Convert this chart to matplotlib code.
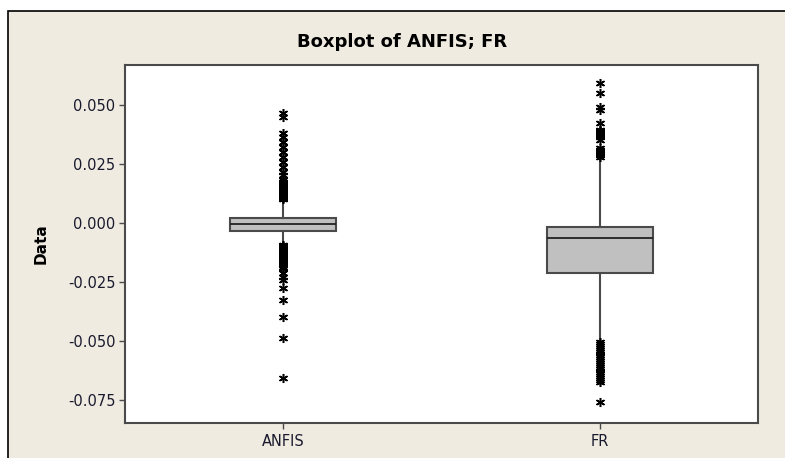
import matplotlib.pyplot as plt
from matplotlib.patches import Rectangle

# ── data ──────────────────────────────────────────────────────────────────────
labels = ["ANFIS", "FR"]
q1 = [-0.0034, -0.0211]
med = [-0.0004, -0.0062]
q3 = [0.0021, -0.0016]
whislo = [-0.0092, -0.0496]
whishi = [0.0095, 0.0274]

anfis_out = [0.0100, 0.0104, 0.0108, 0.0112, 0.0116, 0.0120, 0.0124, 0.0128,
             0.0132, 0.0136, 0.0140, 0.0144, 0.0148, 0.0152, 0.0156, 0.0160,
             0.0165, 0.0170, 0.0175, 0.0180, 0.0186, 0.0203, 0.0217, 0.0239,
             0.0260, 0.0281, 0.0302, 0.0323, 0.0345, 0.0366, 0.0380, 0.0448,
             0.0467,
             -0.0095, -0.0099, -0.0103, -0.0107, -0.0111, -0.0115, -0.0119,
             -0.0123, -0.0127, -0.0131, -0.0135, -0.0139, -0.0143, -0.0147,
             -0.0151, -0.0155, -0.0160, -0.0165, -0.0170, -0.0175, -0.0180,
             -0.0185, -0.0192, -0.0213, -0.0228, -0.0242, -0.0277, -0.0326,
             -0.0397, -0.0489, -0.0658]
fr_out = [0.0281, 0.0286, 0.0291, 0.0296, 0.0301, 0.0306, 0.0311, 0.0316,
          0.0352, 0.0366, 0.0371, 0.0376, 0.0381, 0.0386, 0.0391, 0.0395,
          0.0422, 0.0479, 0.0493, 0.0550, 0.0592,
          -0.0503, -0.0512, -0.0521, -0.0530, -0.0539, -0.0548, -0.0557,
          -0.0566, -0.0575, -0.0584, -0.0593, -0.0602, -0.0611, -0.0620,
          -0.0629, -0.0638, -0.0647, -0.0656, -0.0664, -0.0672, -0.0757]
fliers = [anfis_out, fr_out]

yticks = [0.050, 0.025, 0.000, -0.025, -0.050, -0.075]

# ── figure ────────────────────────────────────────────────────────────────────
BEIGE = "#EFEBE1"
EDGE = "#4a4a4a"
TXT = "#1a1a2e"

fig = plt.figure(figsize=(7.85, 4.58), dpi=100, facecolor="white")
fig.patches.append(Rectangle((8 / 785, -0.05), 1.0, 1 - 11 / 458 + 0.05,
                             transform=fig.transFigure, facecolor=BEIGE,
                             edgecolor="black", lw=1.2, zorder=-10))

ax = fig.add_axes([125 / 785, 1 - 423 / 458, 633 / 785, 358 / 458])
ax.set_facecolor("white")
ax.set_zorder(5)

stats = []
for i, lab in enumerate(labels):
    stats.append(dict(label=lab, q1=q1[i], med=med[i], q3=q3[i],
                      whislo=whislo[i], whishi=whishi[i], fliers=fliers[i]))

ax.bxp(stats, positions=[1, 2], widths=0.335, patch_artist=True,
       showcaps=False,
       boxprops=dict(facecolor="#C0C0C0", edgecolor=EDGE, lw=1.5),
       medianprops=dict(color="#222222", lw=1.3),
       whiskerprops=dict(color=EDGE, lw=1.5),
       flierprops=dict(marker=(6, 2, 0), markersize=6.5, markeredgewidth=1.1,
                       markeredgecolor="black", linestyle="none"))

ax.set_xlim(0.5, 2.5)
ax.set_ylim(-0.0847, 0.0669)
ax.set_yticks(yticks)
ax.set_yticklabels([f"{v:.3f}" for v in yticks])
ax.tick_params(axis="both", direction="out", length=4, width=1,
               color=EDGE, labelsize=10.5, labelcolor=TXT, pad=3)
ax.tick_params(axis="x", pad=4)
for s in ax.spines.values():
    s.set_color(EDGE)
    s.set_linewidth(1.5)

ax.set_ylabel("Data", fontsize=11, fontweight="bold", color="black")
ax.yaxis.set_label_coords(-0.121, 0.5)
fig.text(402 / 785, 1 - 42 / 458, "Boxplot of ANFIS; FR", fontsize=13,
         fontweight="bold", color="black", ha="center", va="center")

plt.savefig("out.png", dpi=100, facecolor=fig.get_facecolor())
plt.close()
